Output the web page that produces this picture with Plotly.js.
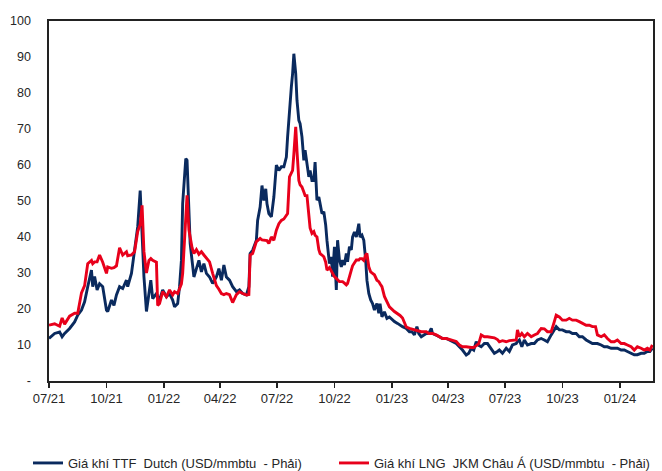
<!DOCTYPE html>
<html>
<head>
<meta charset="utf-8">
<script src="https://cdn.plot.ly/plotly-3.0.1.min.js"></script>
<style>
  html, body { margin: 0; padding: 0; background: #ffffff; }
  #chart { width: 662px; height: 471px; }
</style>
</head>
<body>
<div id="chart"></div>
<script>
const dates = [
'2021-07-01','2021-07-10','2021-07-18','2021-07-22','2021-07-26','2021-08-03','2021-08-11','2021-08-16','2021-08-22','2021-08-27',
'2021-09-01','2021-09-07','2021-09-09','2021-09-12','2021-09-16','2021-09-20','2021-09-25','2021-10-01','2021-10-03','2021-10-09',
'2021-10-13','2021-10-17','2021-10-22','2021-10-27','2021-11-02','2021-11-04','2021-11-10','2021-11-15','2021-11-20','2021-11-24',
'2021-11-27','2021-11-30','2021-12-04','2021-12-08','2021-12-11','2021-12-14','2021-12-20','2021-12-22','2021-12-25',
'2021-12-30','2022-01-05','2022-01-10','2022-01-15','2022-01-18','2022-01-23','2022-01-26','2022-01-29','2022-01-31','2022-02-03',
'2022-02-05','2022-02-07','2022-02-10','2022-02-12','2022-02-15','2022-02-18','2022-02-22','2022-02-26','2022-03-02','2022-03-06',
'2022-03-10','2022-03-15','2022-03-20','2022-03-26','2022-03-30','2022-04-03','2022-04-07','2022-04-11','2022-04-16','2022-04-21',
'2022-04-27','2022-05-02','2022-05-07','2022-05-13','2022-05-17','2022-05-19','2022-05-23','2022-05-29','2022-05-31','2022-06-04',
'2022-06-07','2022-06-10','2022-06-13','2022-06-15','2022-06-18','2022-06-22','2022-06-26',
'2022-06-30','2022-07-04','2022-07-08','2022-07-12','2022-07-16','2022-07-18','2022-07-21','2022-07-24','2022-07-26','2022-07-28',
'2022-07-31','2022-08-02','2022-08-05','2022-08-07','2022-08-10','2022-08-13','2022-08-15','2022-08-18','2022-08-21','2022-08-23',
'2022-08-26','2022-08-29','2022-08-31','2022-09-03','2022-09-06','2022-09-08','2022-09-11','2022-09-14','2022-09-17','2022-09-19',
'2022-09-23','2022-09-26','2022-09-28','2022-10-01','2022-10-04','2022-10-06','2022-10-09','2022-10-12','2022-10-14','2022-10-17',
'2022-10-20','2022-10-22','2022-10-25','2022-10-28','2022-10-30','2022-11-02','2022-11-05','2022-11-09','2022-11-11','2022-11-14',
'2022-11-17','2022-11-20','2022-11-22','2022-11-25','2022-11-28','2022-12-01','2022-12-04','2022-12-08','2022-12-11','2022-12-13',
'2022-12-16','2022-12-20','2022-12-24','2022-12-28','2023-01-05','2023-01-10','2023-01-14','2023-01-18','2023-01-24','2023-01-29',
'2023-02-02','2023-02-06','2023-02-10','2023-02-13','2023-02-17','2023-02-21','2023-02-25','2023-03-01','2023-03-05','2023-03-07',
'2023-03-13','2023-03-18','2023-03-23','2023-03-29','2023-04-03','2023-04-08','2023-04-14','2023-04-19','2023-04-24','2023-04-30',
'2023-05-04','2023-05-08','2023-05-12','2023-05-16','2023-05-20','2023-05-24','2023-05-29','2023-06-03','2023-06-09','2023-06-14',
'2023-06-19','2023-06-22','2023-06-27','2023-07-03','2023-07-08','2023-07-13','2023-07-19','2023-07-21','2023-07-24','2023-07-28',
'2023-08-01','2023-08-06','2023-08-12','2023-08-17','2023-08-22','2023-08-28','2023-09-02','2023-09-07','2023-09-13','2023-09-18',
'2023-09-21','2023-09-26','2023-10-01','2023-10-07','2023-10-12','2023-10-17','2023-10-23','2023-10-28','2023-11-02','2023-11-08',
'2023-11-13','2023-11-18','2023-11-23','2023-11-26','2023-12-02','2023-12-07','2023-12-12','2023-12-18','2023-12-23','2023-12-28',
'2024-01-03','2024-01-08','2024-01-13','2024-01-19','2024-01-24','2024-01-29','2024-02-04','2024-02-09','2024-02-14','2024-02-18',
'2024-02-22'
];

const ttfDutch = [
11.8,13.2,13.6,12.3,13.2,14.6,16.4,18.3,19.7,22,
26.2,30.8,26.2,29,25.3,27,26.2,19.7,19.3,22.5,
21,23.9,26.2,25.7,28,26.2,29.9,37.2,42.8,52.9,
41.9,29,19.3,25.3,28,22.9,24.3,23.5,22.5,
25.3,23.4,24.3,22.5,20.6,21.5,26.2,33.5,49.3,56.7,
61.8,61.3,48.3,38.2,33.5,28.9,31.2,33.5,30.3,32.6,
29.9,28.9,27.1,28.9,31.2,28,32.2,28.9,28,26.2,
24.8,25.3,24.3,23.9,26.2,35.4,36.3,39.1,44.6,48.3,
54.3,50.1,53.4,49.2,46.5,45.6,51.1,
60,58.5,59.5,59.5,62.2,67.8,76.1,81.7,85.4,90.9,
85.4,78,72.4,71.5,67.8,61.3,64.1,60.4,56.7,58.5,
55.7,55.7,60.8,50.2,51.1,49.3,46.5,47,43.3,39.1,
32.6,34.5,29,37.3,25.3,39.1,33.6,31.7,33.6,32.2,
35.4,33.1,37.3,36.4,40,41.4,40,43.7,40,40.5,
39.1,33.6,28,24.3,22.5,21.5,19.7,21.5,18.8,21.5,
17.8,19.2,17.4,17.8,16.5,16,15.5,15.1,14.6,13.7,
13.7,12.8,15.1,13.2,12.3,12.8,13.2,13.2,14.6,13.2,
12.8,12.3,11.8,11.8,11.4,10.9,10.4,9.5,8.6,7.2,
7.7,9.1,8.6,10.9,9.9,9.5,10.4,10.4,9.1,7.7,
8.2,8.6,7.7,9.1,8.2,10,10.4,11,11.4,9.5,
11.4,10,10.4,10.4,11.4,11.8,11.4,10.9,12.8,14.2,
15.1,14.2,14.2,13.7,13.7,13.2,13.2,12.3,12.3,11.4,
10.9,10.4,10.4,10.4,10,9.5,9.5,9.1,9.1,9.1,
8.6,8.6,8.2,7.7,7.3,7.3,7.7,7.7,8.2,8.2,
9.1
];

const jkmAsia = [
15.5,15.9,15.2,17.5,15.8,18,18.8,18.8,24.5,26.5,
32.6,33.5,32.6,33.1,33.1,35,33,29.9,31.7,31.3,
31.5,32,37,35,35.9,34.8,35,35.9,41.5,43.5,
48.8,36,30,33.5,34,33.5,33,21,21.5,
24.8,23.4,25.3,23.9,24.8,24.3,25.5,27,29.9,38.2,
45,51.6,42,39.5,37,35.4,36.5,35.2,35.9,35,
34,33.1,29.9,26.5,25.5,24.3,24,24.3,24,21.8,
24,24.8,24.3,23.9,24,35,35.4,38.7,39,39.6,
39.2,39.1,39.1,39,38.2,40,39.1,
41.9,43.7,44.6,45,46,46.5,56.7,57.6,58.5,63,
70.6,64,55.7,54.5,53.9,52.5,51.5,51.5,46,42.5,
41,41.5,40.5,40,36.5,35.4,35,34.5,33,30.8,
31.5,30.5,30,29,28.5,28,27.6,27.6,27.6,27.2,
26.7,27.1,29.4,30.8,32,33,33.6,33.6,34,34,
33.5,35,35.4,31.7,30.3,29.9,29.5,28,27.6,27,
26.2,23.5,22,20.6,19.3,18.8,18.2,17.5,15,14.6,
14.4,14.2,14.2,13.9,13.7,13.7,13.7,13.2,13.2,13.2,
12.8,12.3,11.8,11.8,11.6,11.4,11,10,9.5,9.5,
9.3,9.3,9.3,9.8,10.4,12.8,12.3,12.3,12.1,12,
11.5,10.9,11.2,10.9,11.2,11.2,11.4,14.2,12.3,13.2,
12.3,13.2,12.3,12.8,13.2,14.6,14.5,13.7,13.7,16.5,
18.3,17.8,16.9,16.9,17.4,16.9,16.9,16.5,16,15.5,
15.5,15.1,15.1,12.8,12.3,12.8,11.8,10.9,10.9,11.4,
10.4,10.4,10,9.5,8.6,9.5,9.1,8.6,9.1,8.6,
10
];

const xTickVals = ['2021-07-01','2021-10-01','2022-01-01','2022-04-01','2022-07-01','2022-10-01',
                   '2023-01-01','2023-04-01','2023-07-01','2023-10-01','2024-01-01'];
const xTickText = ['07/21','10/21','01/22','04/22','07/22','10/22','01/23','04/23','07/23','10/23','01/24'];
const yTickVals = [0,10,20,30,40,50,60,70,80,90,100];
const yTickText = ['-','10','20','30','40','50','60','70','80','90','100'];
const seriesNames = ['Giá khí TTF  Dutch (USD/mmbtu  - Phải)', 'Giá khí LNG  JKM Châu Á (USD/mmbtu  - Phải)'];

const FONT = 'Liberation Sans, Arial, sans-serif';
const TEXT = '#262626';

const traces = [
  { x: dates, y: ttfDutch, type: 'scatter', mode: 'lines', name: seriesNames[0],
    legend: 'legend', line: { color: '#0a2a5e', width: 2.9 } },
  { x: dates, y: jkmAsia, type: 'scatter', mode: 'lines', name: seriesNames[1],
    legend: 'legend2', line: { color: '#e8001b', width: 2.9 } }
];

const legendBase = {
  orientation: 'h', xref: 'container', yref: 'container',
  xanchor: 'left', y: 0.017, yanchor: 'middle',
  font: { family: FONT, size: 13, color: TEXT },
  bgcolor: 'rgba(0,0,0,0)'
};

const layout = {
  width: 662, height: 471,
  margin: { l: 49, r: 9, t: 21, b: 90, pad: 0 },
  paper_bgcolor: '#ffffff', plot_bgcolor: '#ffffff',
  font: { family: FONT, size: 12, color: TEXT },
  showlegend: true,
  legend: Object.assign({}, legendBase, { x: 0.0423 }),
  legend2: Object.assign({}, legendBase, { x: 0.5045 }),
  xaxis: {
    type: 'date', range: ['2021-07-01', '2024-02-23'],
    tickmode: 'array', tickvals: xTickVals, ticktext: xTickText,
    ticks: 'outside', ticklen: 5, tickwidth: 1.3, tickcolor: '#222',
    showline: true, linecolor: '#222', linewidth: 1.6, mirror: true,
    showgrid: false, zeroline: false,
    tickfont: { family: FONT, size: 13, color: TEXT }
  },
  yaxis: {
    range: [0, 100],
    tickmode: 'array', tickvals: yTickVals, ticktext: yTickText,
    ticks: '', ticklabelstandoff: 14,
    showline: true, linecolor: '#222', linewidth: 1.6, mirror: true,
    showgrid: false, zeroline: false,
    tickfont: { family: FONT, size: 12.5, color: TEXT }
  }
};

Plotly.newPlot('chart', traces, layout, { staticPlot: true, displayModeBar: false });
</script>
</body>
</html>
